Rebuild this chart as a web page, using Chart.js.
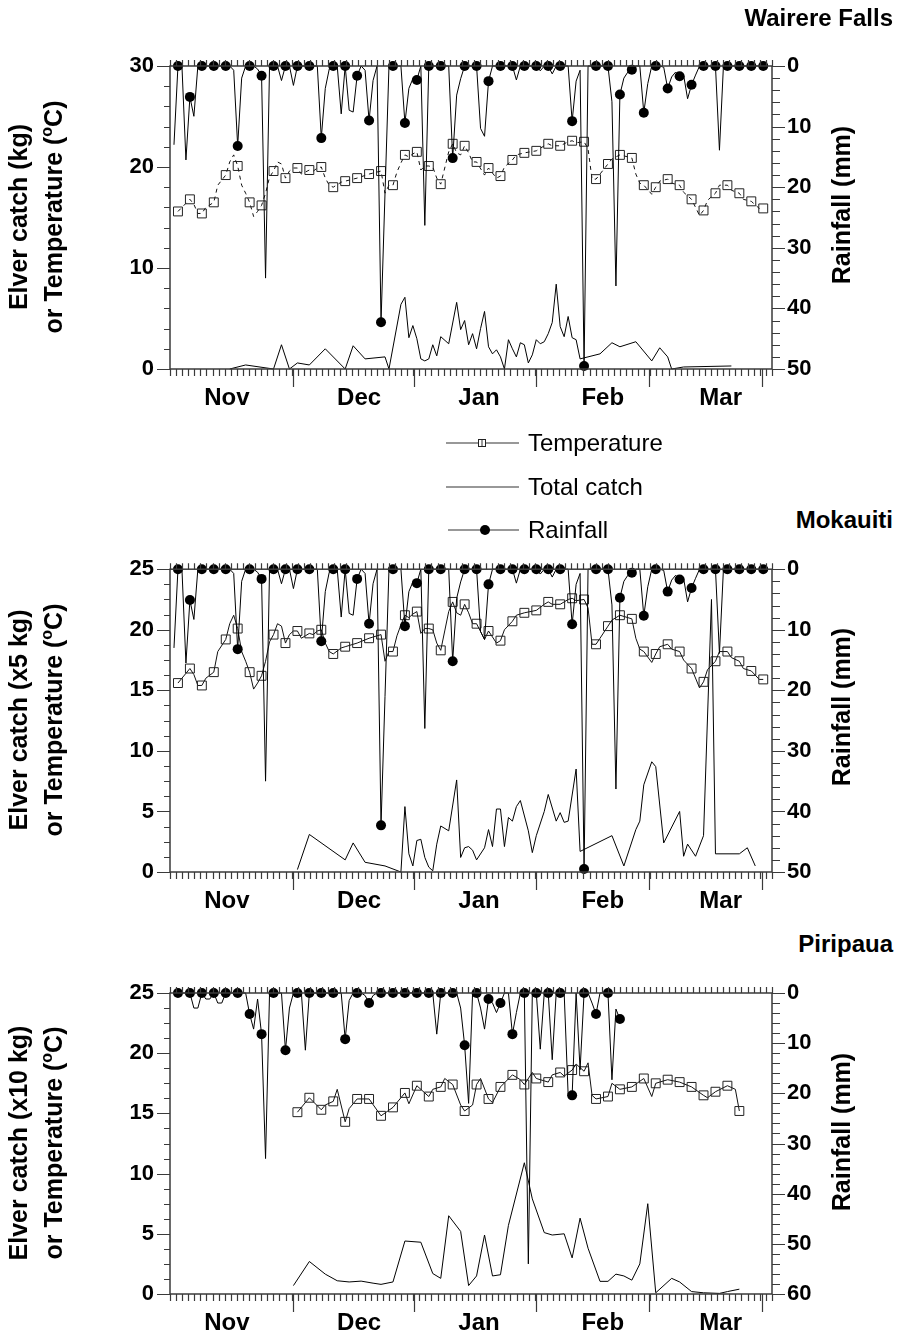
<!DOCTYPE html>
<html>
<head>
<meta charset="utf-8">
<script src="https://cdn.jsdelivr.net/npm/chart.js@4.4.1/dist/chart.umd.min.js"></script>
<style>
  body { margin: 0; background: #fff; font-family: "Liberation Sans", Arial, sans-serif; }
  #page { position: relative; width: 911px; height: 1342px; overflow: hidden; background: #fff; }
  canvas { position: absolute; left: 0; }
  .t { position: absolute; white-space: nowrap; color: #000; font-weight: bold; }
  .title { font-size: 24px; right: 18px; line-height: 28px; }
  .rot { font-size: 25px; line-height: 28px; transform: translate(-50%, -50%) rotate(-90deg); }
  .lg { position: absolute; left: 528px; font-size: 24px; line-height: 28px; white-space: nowrap; }
  sup { font-size: 16px; }
</style>
</head>
<body>
<div id="page">
  <canvas id="c1" width="911" height="430" style="top:0px"></canvas>
  <canvas id="c2" width="911" height="380" style="top:540px"></canvas>
  <canvas id="c3" width="911" height="382" style="top:960px"></canvas>

  <div class="t title" style="top:4px">Wairere Falls</div>
  <div class="t title" style="top:506px">Mokauiti</div>
  <div class="t title" style="top:930px">Piripaua</div>

  <div class="t rot" style="left:18px;top:217px">Elver catch (kg)</div>
  <div class="t rot" style="left:50px;top:217px">or Temperature (<sup>o</sup>C)</div>
  <div class="t rot" style="left:841px;top:205px">Rainfall (mm)</div>

  <div class="t rot" style="left:18px;top:720px">Elver catch (x5 kg)</div>
  <div class="t rot" style="left:50px;top:720px">or Temperature (<sup>o</sup>C)</div>
  <div class="t rot" style="left:841px;top:707px">Rainfall (mm)</div>

  <div class="t rot" style="left:18px;top:1143px">Elver catch (x10 kg)</div>
  <div class="t rot" style="left:50px;top:1143px">or Temperature (<sup>o</sup>C)</div>
  <div class="t rot" style="left:841px;top:1132px">Rainfall (mm)</div>

  <svg style="position:absolute;left:440px;top:425px" width="86" height="120">
    <line x1="6" y1="18" x2="79" y2="18" stroke="#333" stroke-width="1.2"/>
    <rect x="38.5" y="14.5" width="7" height="7" fill="#fff" stroke="#222" stroke-width="1"/>
    <line x1="42" y1="15" x2="42" y2="21" stroke="#333" stroke-width="1"/>
    <line x1="6" y1="62" x2="79" y2="62" stroke="#333" stroke-width="1.2"/>
    <line x1="8" y1="105" x2="79" y2="105" stroke="#333" stroke-width="1.2"/>
    <circle cx="45" cy="105" r="5" fill="#000"/>
  </svg>
  <div class="lg" style="top:429px">Temperature</div>
  <div class="lg" style="top:473px">Total catch</div>
  <div class="lg" style="top:516px">Rainfall</div>
</div>

<script>
// x unit = day number (day 1 = 1 Nov)
const months = ['Nov', 'Dec', 'Jan', 'Feb', 'Mar'];
const monthMid = [14.3, 47.5, 77.6, 108.7, 138.3];
const monthEdge = [30.8, 61.3, 91.8, 120.3, 148.7];
const xMax = 151.2;
const minorStep = 1.527;

// rainfall, one value per day from day 0 (shared by Wairere Falls and Mokauiti)
const rainNorth = [
  null, 13, 0, 0, 15.5, 5.1, 8.3, 0, 0, 0,
  0, 0, 0, 0, 0, 0, 0.7, 13.2, 2, 0,
  0, 0, 0.5, 1.6, 35, 0, 0, 0, 2.4, 0,
  0, 3.2, 0, 0, 0, 0, 0, 0, 11.9, 3.7,
  0.5, 0, 0, 7.9, 0, 7.3, 7.6, 1.6, 0, 0.7,
  9.0, 2.4, 0, 42.3, 21, 0, 0, 0, 0, 9.4,
  3.7, 2.1, 2.3, 0, 26.3, 0, 0, 0, 0, 0,
  0, 15.2, 4.8, 2.1, 0, 0, 0, 0, 10.3, 11.6,
  2.5, 0, 0, 0, 0, 0, 0, 2.3, 0, 0,
  0, 0, 0, 0.8, 0, 0, 1.3, 0, 0, 0,
  0, 9.1, 2.5, 0.7, 49.5, 0, 0, 0, 0, 0,
  0, 5.9, 36.3, 4.7, 2, 1, 0.6, 0, 0, 7.7,
  2.9, 0, 0, 0, 0.2, 3.7, 1.8, 1, 1.7, 1.5,
  5.4, 3.1, 1.5, 0, 0, 0, 0, 0, 13.9, 0,
  0, 0, 0, 0, 0, 0, 0, 0, 0, 0
];

const rainPiripaua = [
  null, 0, 0, 0, 0, 0, 3, 3, 0, 1.2,
  1.2, 0, 2, 2, 0, 0, 0, 0, 0, 0,
  4.2, 7.2, 1.2, 8.2, 33, 0, 0, 0, 0, 11.4,
  3, 0, 0, 0, 11.4, 0, 0, 0, 0, 0,
  0, 0, 0, 0, 9.2, 1.5, 0, 0, 0, 0.5,
  2.0, 0.5, 0, 0, 0, 0, 0, 0, 0, 0,
  0, 0, 0, 0, 0, 0, 0, 8.2, 0, 0,
  0, 0, 0, 3, 10.4, 22, 0, 0, 3, 7.2,
  1.2, 2, 3.9, 2.0, 0, 0, 8.2, 3.9, 0, 0,
  54, 0, 0, 11.2, 0, 0, 13.3, 0, 0, 0,
  20.3, 20.4, 0, 15.3, 0, 0, 2, 4.2, 0, 0,
  0, 17.3, 3.2, 5.2
];

// water temperature [day, degC] (same record for Wairere Falls and Mokauiti)
const tempNorth = [
  [2,15.6],[5,16.8],[6,16.3],[7,15.4],[8,15.4],[9,16.0],[11,16.5],[12,18.2],[14,19.2],[15,20.5],
  [16,21.2],[17,20.1],[18,18.2],[19,17.4],[20,16.5],[21,15.1],[22,15.6],[23,16.2],[24,17.4],[25,19.0],
  [26,19.6],[27,20.5],[28,20.3],[29,18.9],[30,19.6],[31,19.9],[32,19.9],[33,19.3],[34,19.5],[35,19.7],
  [36,19.6],[37,19.9],[38,20.0],[39,18.9],[40,18.2],[41,18.0],[43,18.5],[44,18.6],[47,18.9],[50,19.3],
  [53,19.6],[54,17.4],[55,18.2],[56,18.2],[57,19.5],[58,20.4],[59,21.2],[60,21.0],[61,21.3],[62,21.5],
  [63,19.7],[64,20.1],[65,20.1],[66,20.0],[67,18.9],[68,18.3],[69,19.9],[70,21.5],[71,22.3],[72,21.4],
  [73,21.2],[74,22.1],[75,21.4],[76,20.5],[77,20.5],[79,19.2],[80,19.9],[82,18.9],[83,19.1],[84,20.0],
  [86,20.7],[87,21.2],[89,21.4],[92,21.6],[94,22.1],[95,22.3],[96,22.1],[98,22.1],[100,22.5],[101,22.6],
  [102,22.4],[104,22.5],[105,21.8],[106,18.8],[107,18.8],[108,19.3],[110,20.3],[111,20.8],[113,21.2],[116,20.9],
  [117,19.3],[118,18.4],[119,18.2],[121,17.3],[122,18.0],[123,18.6],[125,18.8],[126,18.4],[128,18.2],[129,17.5],
  [131,16.8],[133,15.2],[134,15.7],[135,16.7],[137,17.4],[138,18.2],[140,18.2],[141,17.7],[143,17.4],[144,16.8],
  [146,16.6],[148,15.9],[149,15.9]
];

const tempPiripaua = [
  [32,15.1],[35,16.3],[38,15.3],[39,15.7],[41,16.0],[42,17.0],[44,14.3],[45,15.4],[47,16.2],[50,16.2],
  [53,14.8],[56,15.5],[59,16.7],[60,15.8],[62,17.3],[65,16.4],[66,17.0],[68,17.2],[69,17.9],[71,17.4],
  [73,15.7],[74,15.2],[76,15.7],[77,17.4],[78,17.9],[80,16.2],[81,15.9],[83,17.2],[86,18.2],[88,17.8],
  [89,17.4],[91,18.4],[92,17.9],[95,17.6],[96,18.2],[98,18.4],[99,18.1],[101,18.6],[102,19.1],[104,18.5],
  [105,19.2],[106,16.5],[107,16.2],[110,16.4],[111,17.5],[113,17.0],[116,17.2],[119,17.9],[121,16.4],[122,17.5],
  [125,17.8],[128,17.6],[131,17.2],[134,16.5],[135,16.3],[137,16.8],[140,17.3],[142,17.0],[143,15.2]
];

// total elver catch [day, value]
const catchWairere = [
  [15,0],[19,0.4],[26,0],[28,2.4],[30,0],[32,0.6],[35,0.4],[39,2.0],[44,0],[46,2.3],
  [49,1.0],[54,1.2],[55,0],[58,6.4],[59,7.1],[60,3.1],[61,4.3],[62,3.0],[63,1.0],[64,0.8],
  [65,1.0],[66,2.4],[67,1.3],[68,3.2],[70,2.5],[72,6.6],[73,3.9],[74,4.8],[75,2.4],[76,3.5],
  [77,2.0],[78,4.0],[79,5.7],[80,2.2],[81,1.5],[82,1.9],[83,1.2],[84,0],[85,2.9],[86,2.0],
  [87,1.2],[88,2.6],[89,2.4],[90,0.6],[91,1.4],[92,2.9],[93,2.5],[94,2.7],[95,3.5],[96,4.6],
  [97,8.4],[98,4.2],[99,3.2],[100,5.2],[101,3.1],[102,2.9],[103,1.0],[108,1.5],[111,2.6],[113,2.2],
  [117,2.7],[121,0.8],[123,2.1],[125,1.2],[126,0],[129,0.2],[141,0.3]
];

const catchMokauiti = [
  [32,0.2],[35,3.1],[44,1.0],[46,2.4],[49,0.8],[54,0.5],[58,0],[59,5.4],[60,1.5],[61,0.5],
  [62,2.6],[63,2.7],[64,1.2],[65,0.4],[66,0.1],[67,2.3],[68,3.8],[70,3.4],[72,7.6],[73,1.2],
  [74,2.0],[75,2.1],[76,1.8],[77,1.0],[79,2.0],[80,3.5],[81,2.1],[82,5.2],[83,5.2],[84,2.1],
  [85,4.5],[86,4.2],[87,5.4],[88,5.9],[90,3.4],[91,1.6],[92,3.0],[94,5.0],[95,6.4],[97,4.2],
  [98,4.9],[99,4.1],[100,4.2],[102,8.5],[103,1.7],[111,3.0],[114,0.5],[117,3.5],[118,4.2],[119,7.2],
  [121,9.1],[122,8.7],[124,2.4],[128,5.0],[129,1.3],[130,2.3],[132,1.3],[134,3.0],[136,22.5],[137,1.5],
  [143,1.5],[145,2.0],[147,0.5]
];

const catchPiripaua = [
  [31,0.7],[35,2.7],[39,1.65],[42,1.1],[45,1.0],[48,1.07],[51,0.9],[53,0.8],[56,1.0],[59,4.4],
  [63,4.3],[66,1.7],[68,1.3],[70,6.5],[73,5.2],[75,0.7],[77,1.5],[79,4.9],[81,1.5],[83,1.6],
  [85,5.7],[89,10.9],[91,7.9],[94,5.1],[96,4.9],[99,5.0],[101,3.0],[103,6.3],[105,3.8],[108,1.05],
  [110,1.05],[112,1.65],[114,1.5],[116,1.15],[118,2.5],[120,7.5],[122,0.1],[126,1.3],[128,1.0],[131,0.2],
  [134,0.1],[138,0.05],[140,0.2],[143,0.4]
];

const fromPairs = list => list.map(([x, y]) => ({x, y}));
const fromDaily = list => list.map((y, x) => ({x, y})).filter(p => p.y !== null);
const everyThird = c => (c.raw && c.raw.x % 3 === 2) ? 1 : 0;

// frame with tick marks on all four sides
const frame = {
  id: 'frame',
  afterDatasetsDraw(chart, args, o) {
    const {ctx, chartArea: a, scales: {x, y, y2}} = chart;
    ctx.save();
    ctx.strokeStyle = '#3a3a3a';
    ctx.lineWidth = 1.5;
    ctx.strokeRect(a.left, a.top, a.right - a.left, a.bottom - a.top);
    ctx.lineWidth = 1.2;
    ctx.beginPath();
    for (let d = 0; d <= x.max + 0.01; d += minorStep) {
      const px = Math.round(x.getPixelForValue(d)) + 0.5;
      ctx.moveTo(px, a.bottom); ctx.lineTo(px, a.bottom + 7);
      ctx.moveTo(px, a.top); ctx.lineTo(px, a.top - 6);
    }
    monthEdge.forEach(d => {
      const px = Math.round(x.getPixelForValue(d)) + 0.5;
      ctx.moveTo(px, a.bottom); ctx.lineTo(px, a.bottom + 18);
    });
    for (let i = 0; i * o.leftMinor <= y.max + 1e-6; i++) {
      const v = i * o.leftMinor;
      const py = Math.round(y.getPixelForValue(v)) + 0.5;
      const major = Math.abs(v % o.leftMajor) < 1e-6;
      ctx.moveTo(a.left, py); ctx.lineTo(a.left - (major ? 13 : 6), py);
    }
    for (let v = 0; v <= y2.max + 1e-6; v += 2) {
      const py = Math.round(y2.getPixelForValue(v)) + 0.5;
      ctx.moveTo(a.right, py); ctx.lineTo(a.right + (v % 10 === 0 ? 13 : 8), py);
    }
    ctx.stroke();
    ctx.restore();
  }
};

Chart.defaults.font.family = '"Liberation Sans", Arial, sans-serif';
Chart.defaults.color = '#000';

function makePanel(id, top, height, areaTop, areaBottom, leftMax, leftMajor, leftMinor, rightMax, rain, temp, tempDash, catchData) {
  const tickFont = {size: 22, weight: 'bold'};
  new Chart(document.getElementById(id), {
    type: 'line',
    data: {
      datasets: [
        {
          label: 'Rainfall', data: fromDaily(rain), yAxisID: 'y2',
          borderColor: '#000', borderWidth: 1, tension: 0, clip: false,
          pointStyle: 'circle', pointBackgroundColor: '#000', pointBorderWidth: 0,
          pointRadius: c => everyThird(c) * 5
        },
        {
          label: 'Temperature', data: fromPairs(temp), yAxisID: 'y',
          borderColor: '#111', borderWidth: 1, borderDash: tempDash, tension: 0, clip: false,
          pointStyle: 'rect', pointBackgroundColor: 'rgba(0,0,0,0)', pointBorderColor: '#222', pointBorderWidth: 1,
          pointRadius: c => everyThird(c) * 6.3
        },
        {
          label: 'Total catch', data: fromPairs(catchData), yAxisID: 'y',
          borderColor: '#000', borderWidth: 1, tension: 0, pointRadius: 0, clip: false
        }
      ]
    },
    options: {
      responsive: false,
      animation: false,
      events: [],
      layout: {padding: {top: areaTop - top, left: 0, right: 0, bottom: 0}},
      plugins: {legend: {display: false}, tooltip: {enabled: false},
        frame: {leftMajor: leftMajor, leftMinor: leftMinor}},
      scales: {
        x: {
          type: 'linear', min: 0, max: xMax,
          grid: {display: false, drawTicks: false}, border: {display: false},
          afterBuildTicks: ax => { ax.ticks = monthMid.map(v => ({value: v})); },
          afterFit: ax => { ax.height = top + height - areaBottom; },
          ticks: {autoSkip: false, maxRotation: 0, padding: 15,
            font: {size: 24, weight: 'bold'}, callback: (v, i) => months[i]}
        },
        y: {
          type: 'linear', position: 'left', min: 0, max: leftMax,
          grid: {display: false, drawTicks: false}, border: {display: false},
          afterFit: ax => { ax.width = 170; },
          ticks: {stepSize: leftMajor, padding: 16, font: tickFont}
        },
        y2: {
          type: 'linear', position: 'right', min: 0, max: rightMax, reverse: true,
          grid: {display: false, drawTicks: false}, border: {display: false},
          afterFit: ax => { ax.width = 911 - 772; },
          ticks: {stepSize: 10, padding: 15, font: tickFont}
        }
      }
    },
    plugins: [frame]
  });
}

makePanel('c1', 0, 430, 66, 369, 30, 10, 2, 50, rainNorth, tempNorth, [4, 4], catchWairere);
makePanel('c2', 540, 380, 568, 872, 25, 5, 1.25, 50, rainNorth, tempNorth, [], catchMokauiti);
makePanel('c3', 960, 382, 993, 1294, 25, 5, 1.25, 60, rainPiripaua, tempPiripaua, [], catchPiripaua);
</script>
</body>
</html>
